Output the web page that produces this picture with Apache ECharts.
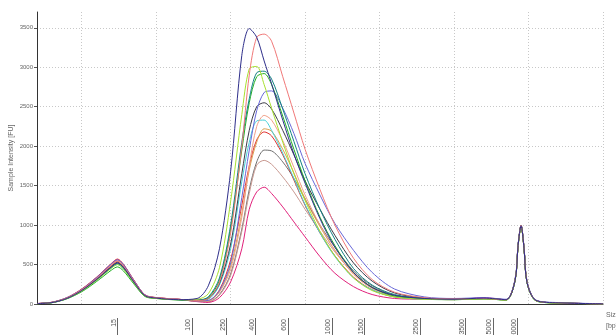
<!DOCTYPE html>
<html>
<head>
<meta charset="utf-8">
<script src="https://cdn.jsdelivr.net/npm/echarts@6/dist/echarts.min.js"></script>
<style>
  html, body { margin: 0; padding: 0; background: #fff; }
  #chart { width: 616px; height: 335px; }
</style>
</head>
<body>
<div id="chart"></div>
<script>
// migration time (s) of each sample point
var times = [14, 16, 18, 20, 22, 24, 24.8, 25.6, 27, 28.5, 30, 33, 35.5, 37, 38.5, 40, 41.5, 42.5, 43.5, 44.5,
  45.5, 47, 48.5, 50, 52, 54, 56.5, 59, 62, 66, 70, 74, 77, 78.2, 78.6, 79, 79.4, 79.8, 81, 84, 90]

// ladder: size in bp and where it sits on the time axis
var ladderSizes = [15, 100, 250, 400, 600, 1000, 1500, 2500, 3500, 5000, 10000]
var ladderTimes = [24.8, 34.8, 39.4, 43.3, 47.7, 53.6, 58.0, 65.4, 71.5, 75.2, 78.5]

var sampleNavy = [5, 18, 70, 170, 310, 470, 520, 465, 280, 105, 75, 55, 70, 230, 700, 1680, 3150, 3490, 3380, 3080,
  2790, 2330, 1900, 1530, 1080, 720, 400, 210, 110, 70, 60, 75, 55, 300, 740, 990, 700, 270, 45, 15, 3]
var sampleCoral = [5, 20, 75, 180, 320, 490, 540, 480, 290, 110, 80, 60, 45, 70, 280, 900, 2000, 2900, 3380, 3420,
  3330, 2880, 2420, 1960, 1450, 1000, 580, 310, 150, 80, 65, 70, 55, 310, 750, 1000, 710, 280, 45, 15, 3]
var sampleLime = [4, 18, 70, 165, 300, 455, 500, 445, 270, 100, 70, 55, 60, 130, 460, 1300, 2400, 2980, 3010, 2780,
  2480, 2050, 1650, 1310, 920, 610, 330, 170, 90, 60, 55, 65, 50, 300, 730, 980, 700, 270, 40, 12, 3]
var sampleTeal = [5, 18, 72, 170, 305, 465, 510, 455, 275, 105, 75, 55, 50, 90, 330, 1000, 2050, 2600, 2930, 2950,
  2850, 2470, 2060, 1650, 1200, 820, 450, 240, 120, 70, 60, 70, 55, 310, 750, 1000, 710, 280, 45, 15, 3]
var sampleGreen = [4, 16, 65, 155, 285, 430, 470, 420, 255, 95, 70, 50, 45, 80, 300, 950, 1950, 2550, 2880, 2920,
  2780, 2380, 1960, 1560, 1100, 740, 400, 210, 100, 65, 55, 65, 50, 300, 740, 990, 700, 270, 40, 12, 3]
var sampleViolet = [6, 22, 80, 185, 335, 510, 560, 500, 300, 115, 80, 60, 40, 45, 170, 520, 1350, 1950, 2450, 2680,
  2700, 2480, 2160, 1780, 1380, 1020, 680, 400, 190, 90, 70, 80, 60, 320, 760, 1000, 720, 290, 50, 18, 4]
var sampleBlack = [5, 19, 72, 175, 315, 480, 530, 470, 285, 108, 78, 58, 50, 70, 260, 760, 1650, 2200, 2500, 2550,
  2470, 2200, 1890, 1560, 1200, 870, 520, 290, 140, 75, 60, 70, 55, 305, 745, 995, 705, 275, 45, 15, 3]
var sampleSalmon = [5, 20, 75, 180, 325, 495, 550, 490, 295, 112, 80, 60, 40, 40, 150, 440, 1100, 1750, 2250, 2390,
  2330, 2070, 1730, 1380, 1000, 680, 380, 200, 100, 65, 58, 68, 52, 300, 740, 990, 700, 275, 42, 14, 3]
var sampleCyan = [4, 18, 70, 165, 300, 455, 500, 445, 270, 100, 72, 55, 45, 60, 240, 700, 1550, 2050, 2320, 2330,
  2200, 1910, 1590, 1260, 900, 600, 330, 180, 90, 60, 55, 65, 50, 300, 740, 990, 700, 270, 40, 12, 3]
var sampleOrange = [5, 20, 75, 178, 320, 488, 540, 480, 290, 110, 78, 58, 40, 40, 160, 480, 1150, 1700, 2050, 2220,
  2190, 1960, 1660, 1330, 980, 680, 380, 200, 100, 65, 58, 68, 52, 305, 745, 995, 705, 275, 44, 14, 3]
var sampleRed = [6, 22, 80, 190, 340, 515, 570, 505, 305, 115, 82, 60, 42, 45, 180, 560, 1250, 1750, 2080, 2180,
  2130, 1890, 1570, 1250, 900, 610, 340, 180, 90, 62, 56, 66, 52, 305, 745, 995, 705, 275, 44, 14, 3]
var sampleGray = [5, 19, 70, 172, 310, 472, 520, 463, 280, 106, 76, 56, 35, 30, 120, 380, 950, 1450, 1800, 1950,
  1940, 1800, 1590, 1330, 1000, 720, 420, 230, 110, 70, 58, 68, 52, 300, 740, 990, 700, 270, 42, 14, 3]
var sampleRosy = [5, 20, 75, 178, 320, 488, 540, 480, 290, 110, 78, 58, 32, 30, 110, 360, 920, 1400, 1760, 1820,
  1770, 1610, 1420, 1200, 920, 660, 390, 210, 100, 65, 58, 68, 52, 300, 740, 990, 700, 270, 42, 14, 3]
var sampleMagenta = [6, 22, 78, 185, 335, 508, 560, 498, 300, 114, 80, 60, 30, 20, 80, 280, 700, 1200, 1420, 1480,
  1400, 1230, 1040, 850, 600, 390, 220, 120, 70, 60, 56, 80, 55, 305, 745, 995, 705, 275, 44, 14, 3]

var samples = [
  { values: sampleGray, color: '#707070' },
  { values: sampleRosy, color: '#c89890' },
  { values: sampleMagenta, color: '#e0207a' },
  { values: sampleRed, color: '#e03030' },
  { values: sampleOrange, color: '#d8a050' },
  { values: sampleCyan, color: '#48d0d8' },
  { values: sampleSalmon, color: '#f0a088' },
  { values: sampleBlack, color: '#3c3c48' },
  { values: sampleViolet, color: '#6868d8' },
  { values: sampleGreen, color: '#22b022' },
  { values: sampleTeal, color: '#148282' },
  { values: sampleLime, color: '#a8e030' },
  { values: sampleCoral, color: '#f07878' },
  { values: sampleNavy, color: '#2e2e8a' }
]

var chart = echarts.init(document.getElementById('chart'))

var series = samples.map(function (s) {
  return {
    type: 'line',
    symbol: 'none',
    smooth: 0.3,
    lineStyle: { width: 1, color: s.color },
    data: times.map(function (t, i) { return [t, s.values[i]] })
  }
})

var option = {
  animation: false,
  backgroundColor: '#fff',
  grid: { left: 37, right: 13, top: 12, bottom: 31, outerBoundsMode: 'none', containLabel: false },
  xAxis: [
    {
      type: 'value',
      min: 14,
      max: 90,
      minInterval: 10,
      maxInterval: 10,
      name: 'Size\n[bp]',
      nameLocation: 'end',
      nameGap: 3,
      nameTextStyle: { fontSize: 7, color: '#666', align: 'left', verticalAlign: 'top', padding: [6, 0, 0, 0], lineHeight: 11 },
      axisLine: { lineStyle: { color: '#333', width: 1 } },
      axisTick: { show: false },
      axisLabel: { show: false },
      splitLine: { show: true, showMinLine: false, lineStyle: { color: '#c8c8c8', type: [1, 2], width: 1 } }
    },
    {
      type: 'value',
      min: 14,
      max: 90,
      position: 'bottom',
      offset: 14,
      axisLine: { show: false },
      axisTick: { show: true, customValues: ladderTimes, length: 20, lineStyle: { color: '#666', width: 1 } },
      axisLabel: {
        customValues: ladderTimes,
        rotate: 90,
        margin: 1,
        fontSize: 7,
        color: '#555',
        verticalAlign: 'bottom',
        formatter: function (v) {
          var i = ladderTimes.indexOf(v)
          return i >= 0 ? String(ladderSizes[i]) : ''
        }
      },
      splitLine: { show: false }
    }
  ],
  yAxis: {
    type: 'value',
    min: 0,
    max: 3700,
    interval: 500,
    name: 'Sample Intensity [FU]',
    nameLocation: 'middle',
    nameGap: 22,
    nameMoveOverlap: false,
    nameTextStyle: { fontSize: 7, color: '#666' },
    axisLine: { show: true, lineStyle: { color: '#333', width: 1 } },
    axisTick: { show: true, length: 3, lineStyle: { color: '#555' } },
    axisLabel: {
      fontSize: 6,
      color: '#666',
      margin: 4,
      showMaxLabel: false,
      formatter: function (v) { return String(v) }
    },
    splitLine: { show: true, showMaxLine: false, lineStyle: { color: '#c8c8c8', type: [1, 2], width: 1 } }
  },
  series: series
}

chart.setOption(option, true)
</script>
</body>
</html>
